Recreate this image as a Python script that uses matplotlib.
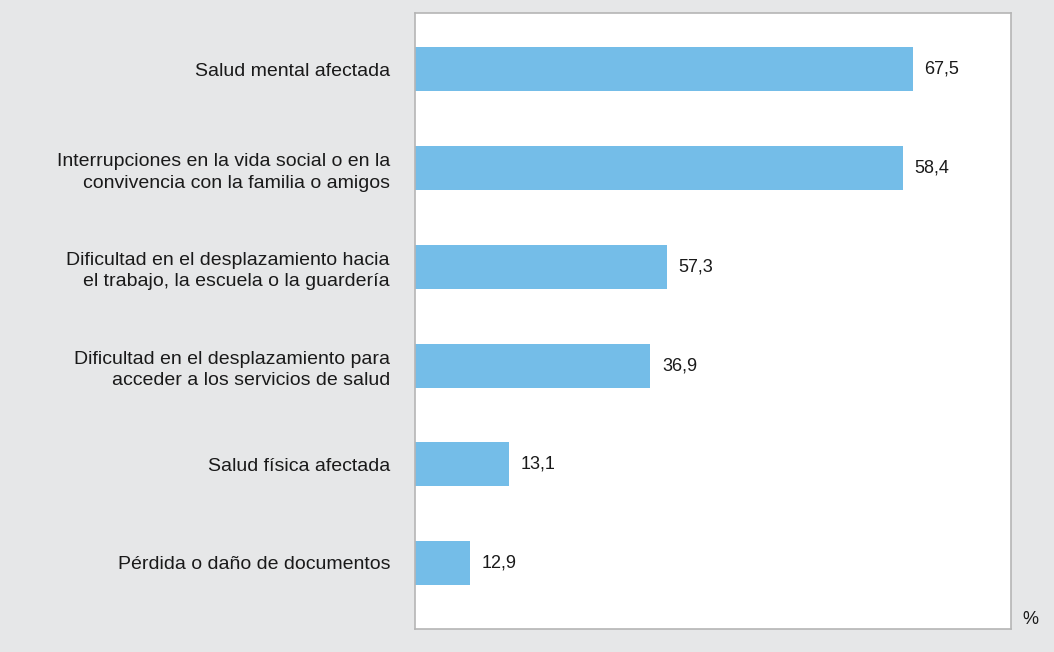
import numpy as np
import matplotlib
matplotlib.use("Agg")
import matplotlib.pyplot as plt

plt.rcParams["font.family"] = ["Liberation Sans", "DejaVu Sans"]

categories = [
    "Salud mental afectada",
    "Interrupciones en la vida social o en la\nconvivencia con la familia o amigos",
    "Dificultad en el desplazamiento hacia\nel trabajo, la escuela o la guardería",
    "Dificultad en el desplazamiento para\nacceder a los servicios de salud",
    "Salud física afectada",
    "Pérdida o daño de documentos",
]
# printed values (%)
values = [67.5, 58.4, 57.3, 36.9, 13.1, 12.9]
# bar lengths as drawn in the source (not proportional to printed values)
bar_lengths = [66.8, 65.5, 33.8, 31.6, 12.6, 7.4]

bg = "#e6e7e8"
bar_color = "#74bde8"

fig = plt.figure(figsize=(10.54, 6.52), dpi=100, facecolor=bg)
ax = fig.add_axes([415 / 1054, 1 - 629 / 652, 596 / 1054, 616 / 652])
ax.set_facecolor("white")

y = np.arange(len(categories))
ax.barh(y, bar_lengths, height=0.446, color=bar_color, edgecolor="none")

for yi, length, v in zip(y, bar_lengths, values):
    ax.annotate(
        f"{v:.1f}".replace(".", ","),
        xy=(length, yi),
        xytext=(8.5, 0),
        textcoords="offset points",
        ha="left",
        va="center",
        fontsize=13,
        color="#1a1a1a",
    )

ax.set_xlim(0, 80)
ax.set_ylim(5.669, -0.572)
ax.set_xticks([])
ax.set_yticks(y)
ax.set_yticklabels(categories, fontsize=14, color="#1a1a1a", linespacing=1.35)
for lbl in ax.get_yticklabels():
    lbl.set_horizontalalignment("right")
    lbl.set_multialignment("right")
ax.tick_params(axis="y", length=0, pad=18)

for s in ax.spines.values():
    s.set_color("#b5b5b5")
    s.set_linewidth(1.2)

ax.annotate("%", xy=(1, 0), xycoords="axes fraction", xytext=(8, 3.5),
            textcoords="offset points", ha="left", va="baseline",
            fontsize=13, color="#1a1a1a")

fig.savefig("out.png", dpi=100, facecolor=bg)
